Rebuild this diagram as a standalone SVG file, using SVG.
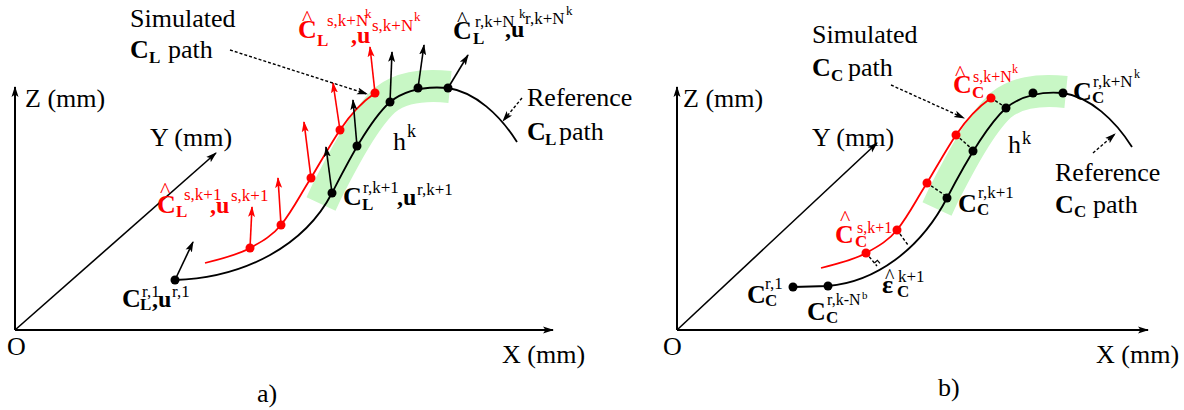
<svg xmlns="http://www.w3.org/2000/svg" width="1184" height="410" viewBox="0 0 1184 410">
<style>
text{font-family:"Liberation Serif","Times New Roman",serif;font-size:26px;fill:#000}
.r{fill:#f00}
.b{font-weight:bold}
.s{font-size:17px}
.ss{font-size:13px}
.hat{font-size:22px}
.ax{stroke:#000;stroke-width:2;fill:none}
.cb{stroke:#000;stroke-width:1.8;fill:none}
.cr{stroke:#f00;stroke-width:1.8;fill:none}
.ab{stroke:#000;stroke-width:1.6;fill:none;marker-end:url(#mb)}
.ar{stroke:#f00;stroke-width:1.6;fill:none;marker-end:url(#mr)}
.dp{stroke:#000;stroke-width:1.4;fill:none;stroke-dasharray:3 2;marker-end:url(#mb)}
.dl{stroke:#000;stroke-width:1.4;fill:none;stroke-dasharray:3 2}
.band{stroke:#c8f7c5;stroke-width:32;fill:none;stroke-linecap:butt}
.db{fill:#000}
.dr{fill:#f00}
</style>
<defs>
<marker id="mb" markerUnits="userSpaceOnUse" markerWidth="12" markerHeight="8" refX="10" refY="4" orient="auto"><path d="M0,0.5 L11,4 L0,7.5 L2.5,4 z" fill="#000"/></marker>
<marker id="mr" markerUnits="userSpaceOnUse" markerWidth="12" markerHeight="8" refX="10" refY="4" orient="auto"><path d="M0,0.5 L11,4 L0,7.5 L2.5,4 z" fill="#f00"/></marker>
</defs>

<!-- ===== Panel a ===== -->
<g id="band-a"><path class="band" d="M321,204 L327,191 C340,166 363,120 385,100 C400,88 420,84 450,87"/></g>
<g id="axes-a">
<line class="ax" x1="15" y1="330" x2="15" y2="87" marker-end="url(#mb)"/>
<line class="ax" x1="15" y1="330" x2="553" y2="330" marker-end="url(#mb)"/>
<line class="ax" x1="15" y1="330" x2="216" y2="153" style="stroke-width:1.6" marker-end="url(#mb)"/>
<text x="25" y="107">Z (mm)</text>
<text x="150" y="146">Y (mm)</text>
<text x="502" y="363">X (mm)</text>
<text x="7" y="355">O</text>
<text x="257" y="402">a)</text>
</g>
<g id="connectors-a">
<path class="cb" d="M175,280 C245,278 305,245 332,193 C345,168 368,122 390,102 C405,90 425,86 448,88 C475,92 500,115 517,142"/>
<path class="cr" d="M205,263 C225,258 240,254 250,248 C263,241 273,235 281,225 C293,210 300,195 311,178 C320,163 330,145 340,130 C350,115 362,102 375,93"/>
<line class="ab" x1="175" y1="280" x2="193" y2="242"/>
<line class="ab" x1="332" y1="193" x2="326" y2="147"/>
<line class="ab" x1="357" y1="146" x2="353" y2="100"/>
<line class="ab" x1="390" y1="102" x2="392" y2="52"/>
<line class="ab" x1="418" y1="88" x2="424" y2="45"/>
<line class="ab" x1="448" y1="88" x2="468" y2="55"/>
<line class="ar" x1="250" y1="248" x2="252" y2="207"/>
<line class="ar" x1="281" y1="225" x2="278" y2="178"/>
<line class="ar" x1="311" y1="178" x2="304" y2="122"/>
<line class="ar" x1="340" y1="130" x2="333" y2="83"/>
<line class="ar" x1="375" y1="93" x2="370" y2="47"/>
<line class="dp" x1="230" y1="50" x2="367" y2="94"/>
<line class="dp" x1="522" y1="98" x2="503" y2="121"/>
</g>
<g id="dots-a">
<circle class="db" cx="175" cy="280" r="4.5"/>
<circle class="db" cx="332" cy="193" r="4.5"/>
<circle class="db" cx="357" cy="146" r="4.5"/>
<circle class="db" cx="390" cy="102" r="4.5"/>
<circle class="db" cx="418" cy="88" r="4.5"/>
<circle class="db" cx="448" cy="88" r="4.5"/>
<circle class="dr" cx="250" cy="248" r="4.5"/>
<circle class="dr" cx="281" cy="225" r="4.5"/>
<circle class="dr" cx="311" cy="178" r="4.5"/>
<circle class="dr" cx="340" cy="130" r="4.5"/>
<circle class="dr" cx="375" cy="93" r="4.5"/>
</g>
<g id="label-sim-a">
<text x="130" y="27">Simulated</text>
<text x="130" y="58" class="b">C</text><text x="149" y="63" class="b s">L</text><text x="168" y="58">path</text>
</g>
<g id="label-ref-a">
<text x="527" y="106">Reference</text>
<text x="527" y="140" class="b">C</text><text x="545" y="145" class="b s">L</text><text x="559" y="140">path</text>
</g>
<g id="label-hk-a"><text x="393" y="150">h</text><text x="407" y="137" style="font-size:18px">k</text></g>
<g id="label-sim-end-a">
<text x="302" y="25" class="r hat">^</text>
<text x="298" y="38" class="r b">C</text><text x="317" y="46" class="r b s">L</text>
<text x="327" y="26" class="r s">s,k+N</text><text x="365" y="18" class="r ss">k</text>
<text x="351" y="43" class="r b" style="font-size:24px">,u</text>
<text x="372" y="31" class="r s">s,k+N</text><text x="414" y="21" class="r ss">k</text>
</g>
<g id="label-ref-end-a">
<text x="457" y="26" class="hat">^</text>
<text x="453" y="39" class="b">C</text><text x="473" y="44" class="b s">L</text>
<text x="475" y="27" class="s">r,k+N</text><text x="519" y="18" class="ss">k</text>
<text x="505" y="37" class="b" style="font-size:24px">,u</text>
<text x="525" y="24" class="s">r,k+N</text><text x="566" y="15" class="ss">k</text>
</g>
<g id="label-sim-k1-a">
<text x="160" y="197" class="r hat">^</text>
<text x="157" y="213" class="r b">C</text><text x="176" y="217" class="r b s">L</text>
<text x="184" y="200" class="r s">s,k+1</text>
<text x="210" y="213" class="r b" style="font-size:24px">,u</text>
<text x="231" y="201" class="r s">s,k+1</text>
</g>
<g id="label-ref-k1-a">
<text x="343" y="205" class="b">C</text><text x="362" y="210" class="b s">L</text>
<text x="363" y="193" class="s">r,k+1</text>
<text x="397" y="205" class="b" style="font-size:24px">,u</text>
<text x="417" y="195" class="s">r,k+1</text>
</g>
<g id="label-ref-1-a">
<text x="122" y="307" class="b">C</text><text x="140" y="310" class="b s">L</text>
<text x="142" y="297" class="s">r,1</text>
<text x="152" y="307" class="b" style="font-size:24px">,u</text>
<text x="172" y="297" class="s">r,1</text>
</g>

<!-- ===== Panel b ===== -->
<g id="band-b"><path class="band" d="M937,209 L943,196 C956,171 979,125 1001,105 C1016,93 1036,89 1066,92"/></g>
<g id="axes-b">
<line class="ax" x1="677" y1="330" x2="677" y2="87" marker-end="url(#mb)"/>
<line class="ax" x1="677" y1="330" x2="1148" y2="330" marker-end="url(#mb)"/>
<line class="ax" x1="677" y1="330" x2="877" y2="143" style="stroke-width:1.6" marker-end="url(#mb)"/>
<text x="683" y="107">Z (mm)</text>
<text x="812" y="146">Y (mm)</text>
<text x="1096" y="363">X (mm)</text>
<text x="663" y="355">O</text>
<text x="938" y="396">b)</text>
</g>
<g id="connectors-b">
<path class="cb" d="M793,287 L828,286 C875,282 920,250 947,198 C960,173 984,128 1006,108 C1021,96 1040,91 1063,93 C1090,97 1115,120 1132,147"/>
<path class="cr" d="M821,268 C841,263 856,259 866,253 C879,246 889,240 897,230 C909,215 916,200 927,183 C936,168 946,150 956,135 C966,120 978,107 991,98"/>
<line class="dl" x1="866" y1="253" x2="877" y2="266"/>
<polyline class="cb" style="stroke-width:1.2" points="874.4,263 877.4,260.4 880,263.4"/>
<line class="dl" x1="897" y1="230" x2="908" y2="245"/>
<line class="dl" x1="927" y1="183" x2="946" y2="196"/>
<line class="dl" x1="956" y1="135" x2="972" y2="149"/>
<line class="dl" x1="991" y1="98" x2="1005" y2="107"/>
<line class="dp" x1="891" y1="85" x2="964" y2="118"/>
<line class="dp" x1="1093" y1="153" x2="1115" y2="134"/>
</g>
<g id="dots-b">
<circle class="db" cx="793" cy="287" r="4.5"/>
<circle class="db" cx="828" cy="286" r="4.5"/>
<circle class="db" cx="947" cy="198" r="4.5"/>
<circle class="db" cx="973" cy="151" r="4.5"/>
<circle class="db" cx="1006" cy="108" r="4.5"/>
<circle class="db" cx="1033" cy="93" r="4.5"/>
<circle class="db" cx="1063" cy="93" r="4.5"/>
<circle class="dr" cx="866" cy="253" r="4.5"/>
<circle class="dr" cx="897" cy="230" r="4.5"/>
<circle class="dr" cx="927" cy="183" r="4.5"/>
<circle class="dr" cx="956" cy="135" r="4.5"/>
<circle class="dr" cx="991" cy="98" r="4.5"/>
</g>
<g id="label-sim-b">
<text x="812" y="43">Simulated</text>
<text x="812" y="76" class="b">C</text><text x="831" y="81" class="b s">C</text><text x="848" y="76">path</text>
</g>
<g id="label-ref-b">
<text x="1055" y="181">Reference</text>
<text x="1055" y="213" class="b">C</text><text x="1074" y="217" class="b s">C</text><text x="1093" y="213">path</text>
</g>
<g id="label-hk-b"><text x="1008" y="153">h</text><text x="1022" y="144" style="font-size:18px">k</text></g>
<g id="label-sim-end-b">
<text x="955" y="80" class="r hat">^</text>
<text x="953" y="93" class="r b">C</text><text x="972" y="98" class="r b s">C</text>
<text x="973" y="82" class="r" style="font-size:16px">s,k+N</text><text x="1012" y="73" class="r" style="font-size:12px">k</text>
</g>
<g id="label-ref-end-b">
<text x="1073" y="100" class="b">C</text><text x="1092" y="103" class="b s">C</text>
<text x="1093" y="87" class="s">r,k+N</text><text x="1134" y="78" style="font-size:12px">k</text>
</g>
<g id="label-ref-k1-b">
<text x="958" y="212" class="b">C</text><text x="977" y="215" class="b s">C</text>
<text x="978" y="198" class="s">r,k+1</text>
</g>
<g id="label-sim-k1-b">
<text x="840" y="225" class="r hat">^</text>
<text x="835" y="243" class="r b">C</text><text x="855" y="247" class="r b s">C</text>
<text x="857" y="233" class="r" style="font-size:16px">s,k+1</text>
</g>
<g id="label-eps-b">
<text x="885" y="283" style="font-size:20px">^</text>
<text x="882" y="293" class="b">ε</text><text x="897" y="297" class="b s">C</text>
<text x="898" y="282" class="s">k+1</text>
</g>
<g id="label-ref-1-b">
<text x="747" y="303" class="b">C</text><text x="765" y="306" class="b s">C</text>
<text x="765" y="289" class="s">r,1</text>
</g>
<g id="label-ref-kNb-b">
<text x="807" y="320" class="b">C</text><text x="826" y="323" class="b s">C</text>
<text x="827" y="305" style="font-size:16px">r,k-N</text><text x="862" y="299" style="font-size:11px">b</text>
</g>
</svg>
